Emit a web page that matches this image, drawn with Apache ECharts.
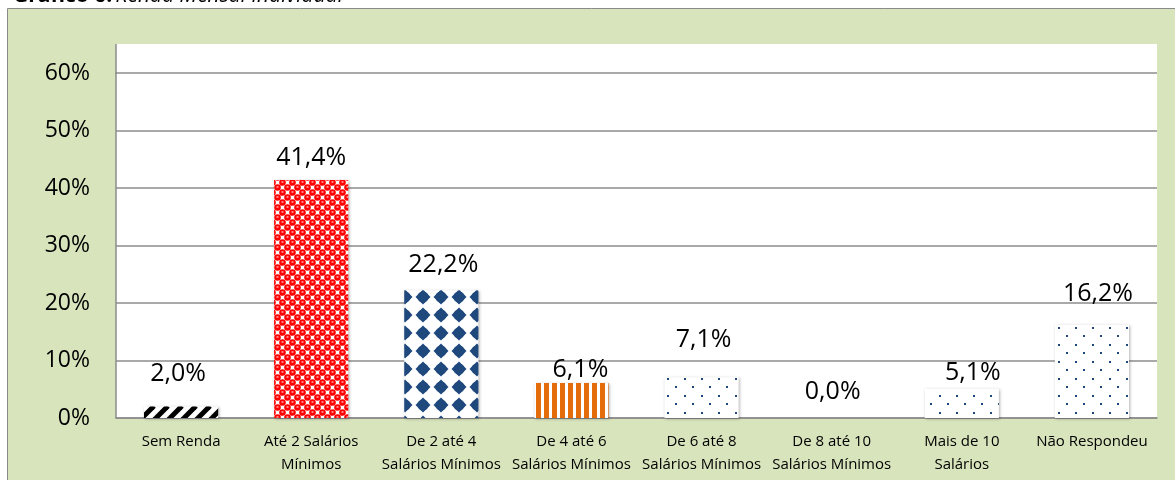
<!DOCTYPE html>
<html>
<head>
<meta charset="utf-8">
<script src="https://cdn.jsdelivr.net/npm/echarts@6/dist/echarts.min.js"></script>
<style>
  html, body { margin: 0; padding: 0; background: #fff; }
  #chart { width: 1175px; height: 480px; }
</style>
</head>
<body>
<div id="chart"></div>
<script>
// data
var categories = [
  "Sem Renda",
  "Até 2 Salários\nMínimos",
  "De 2 até 4\nSalários Mínimos",
  "De 4 até 6\nSalários Mínimos",
  "De 6 até 8\nSalários Mínimos",
  "De 8 até 10\nSalários Mínimos",
  "Mais de 10\nSalários",
  "Não Respondeu"
];
var values = [2.0, 41.4, 22.2, 6.1, 7.1, 0.0, 5.1, 16.2];
var yMax = 60;
var yStep = 10;

// pattern tiles, one per bar
function tile(w, h, draw) {
  var c = document.createElement("canvas");
  c.width = w;
  c.height = h;
  var ctx = c.getContext("2d");
  ctx.fillStyle = "#fff";
  ctx.fillRect(0, 0, w, h);
  draw(ctx, w, h);
  return { image: c, repeat: "repeat" };
}

var stripes = tile(14, 14, function (ctx, w, h) {
  ctx.strokeStyle = "#000";
  ctx.lineWidth = 5;
  [-w, 0, w].forEach(function (k) {
    ctx.beginPath();
    ctx.moveTo(k, h);
    ctx.lineTo(k + w, 0);
    ctx.stroke();
  });
});

var redBalls = tile(10, 10, function (ctx, w, h) {
  ctx.fillStyle = "#FF0000";
  [[2.5, 2.5], [7.5, 7.5]].forEach(function (p) {
    for (var dx = -w; dx <= w; dx += w) {
      for (var dy = -h; dy <= h; dy += h) {
        ctx.beginPath();
        ctx.arc(p[0] + dx, p[1] + dy, 3.3, 0, Math.PI * 2);
        ctx.fill();
      }
    }
  });
  ctx.fillStyle = "#fff";
  ctx.fillRect(1.5, 1.5, 2, 1);
  ctx.fillRect(6.5, 6.5, 2, 1);
});

var blueDiamonds = tile(18, 18, function (ctx) {
  ctx.fillStyle = "#1F497D";
  ctx.beginPath();
  ctx.moveTo(9, 1.5);
  ctx.lineTo(16.5, 9);
  ctx.lineTo(9, 16.5);
  ctx.lineTo(1.5, 9);
  ctx.closePath();
  ctx.fill();
  ctx.beginPath();
  ctx.arc(9, 9, 5.6, 0, Math.PI * 2);
  ctx.fill();
});

var orangeBars = tile(8, 4, function (ctx) {
  ctx.fillStyle = "#E46C0A";
  ctx.fillRect(0, 0, 5, 4);
});

var blueDots = tile(17, 17, function (ctx) {
  ctx.fillStyle = "#1F497D";
  ctx.fillRect(4, 4, 2, 2);
  ctx.fillRect(12, 12, 2, 2);
});

var patterns = [stripes, redBalls, blueDiamonds, orangeBars, blueDots, blueDots, blueDots, blueDots];
// hand placed labels, as in the original
var labelNudge = [[-3, -18], [0, -7], [2, -10], [9, 2], [2, -22], [1, -11], [11, -1], [6, -16]];

var font = "'Open Sans', 'Noto Sans', sans-serif";

var barData = values.map(function (v, i) {
  return {
    value: v,
    itemStyle: { color: patterns[i] },
    label: { offset: labelNudge[i] }
  };
});

var chart = echarts.init(document.getElementById("chart"));

var option = {
  animation: false,
  backgroundColor: "#fff",
  textStyle: { fontFamily: font },
  graphic: [
    {
      type: "rect",
      z: -20,
      silent: true,
      shape: { x: 7.5, y: 8.5, width: 1300, height: 600 },
      style: { fill: "#D8E4BC", stroke: "#8a8a8a", lineWidth: 1 }
    },
    {
      type: "rect",
      z: -10,
      silent: true,
      shape: { x: 116, y: 44, width: 1041, height: 374 },
      style: { fill: "#fff" }
    },
    {
      type: "line",
      silent: true,
      shape: { x1: 116, y1: 44, x2: 116, y2: 74 },
      style: { stroke: "#8c8c8c", lineWidth: 1.5 }
    },
    {
      type: "text",
      silent: true,
      x: 13,
      y: -4,
      style: {
        text: "{b|Gráfico 6:} {i|Renda Mensal Individual}",
        verticalAlign: "middle",
        fill: "#000",
        rich: {
          b: { fontSize: 21, fontWeight: "bold", fontFamily: font },
          i: { fontSize: 21, fontStyle: "italic", fontFamily: font }
        }
      }
    }
  ],
  grid: {
    left: 116,
    right: 18,
    top: 73,
    bottom: 62
  },
  xAxis: {
    type: "category",
    data: categories,
    axisLine: { show: true, lineStyle: { color: "#8c8c8c", width: 1.5 } },
    axisTick: { show: false },
    axisLabel: {
      interval: 0,
      margin: 12,
      color: "#000",
      fontSize: 15,
      lineHeight: 23,
      fontFamily: font
    }
  },
  yAxis: {
    type: "value",
    min: 0,
    max: yMax,
    interval: yStep,
    axisLine: { show: true, lineStyle: { color: "#8c8c8c", width: 1.5 } },
    axisTick: { show: false },
    splitLine: { lineStyle: { color: "#8c8c8c", width: 1.5 } },
    axisLabel: {
      formatter: "{value}%",
      margin: 26,
      color: "#000",
      fontSize: 23,
      fontFamily: font
    }
  },
  series: [
    {
      type: "bar",
      data: barData,
      barCategoryGap: "43%",
      itemStyle: {
        shadowColor: "rgba(0,0,0,0.3)",
        shadowBlur: 3,
        shadowOffsetX: 1,
        shadowOffsetY: 1
      },
      label: {
        show: true,
        position: "top",
        distance: 0,
        color: "#000",
        fontSize: 25,
        lineHeight: 30,
        fontFamily: font,
        formatter: function (p) {
          return p.value.toFixed(1).replace(".", ",") + "%";
        }
      }
    }
  ]
};

chart.setOption(option);
</script>
</body>
</html>
